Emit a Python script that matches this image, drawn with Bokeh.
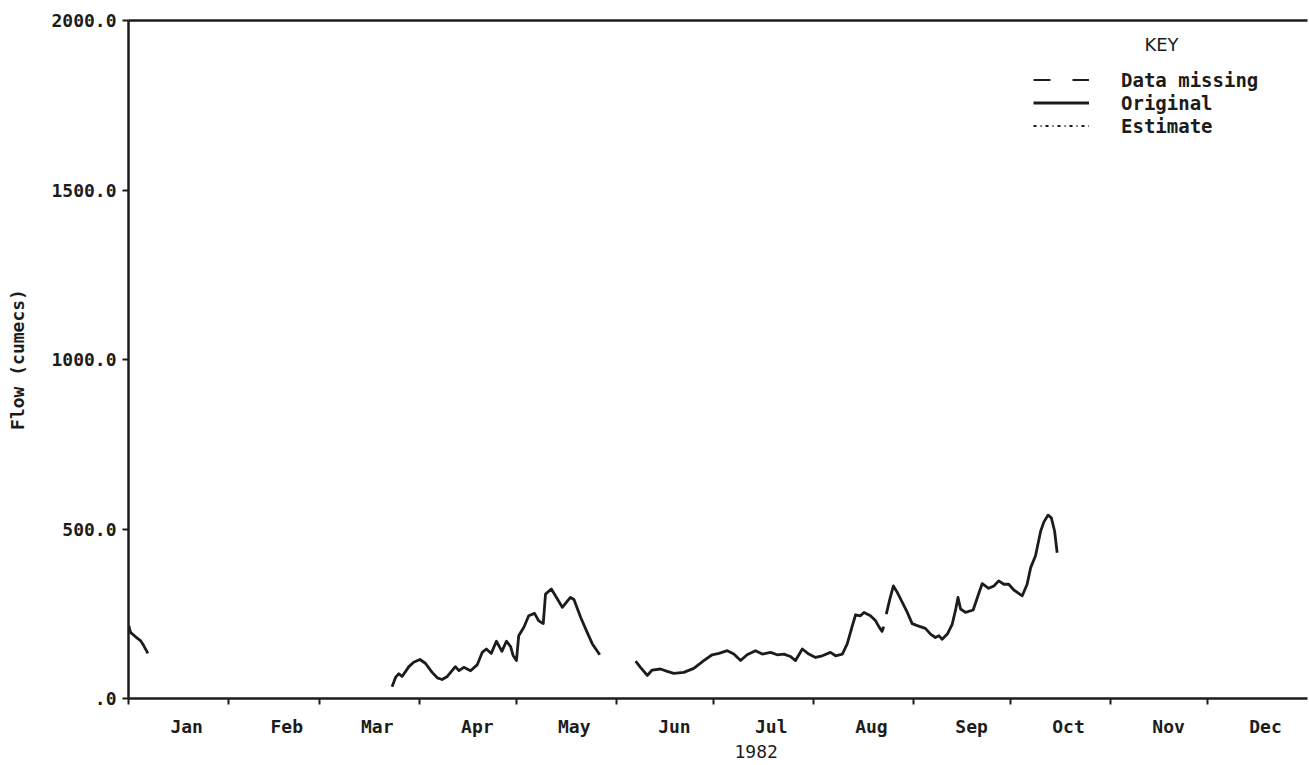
from bokeh.plotting import figure
from bokeh.models import (Range1d, FixedTicker, Legend, LegendItem, Title, Label,
                          LinearAxis)
from bokeh.embed import file_html
from bokeh.resources import INLINE

# ---- data (day of year 1982, flow in cumecs) ----
months = ["Jan", "Feb", "Mar", "Apr", "May", "Jun", "Jul", "Aug", "Sep", "Oct", "Nov", "Dec"]
month_start = [0, 31, 59, 90, 120, 151, 181, 212, 243, 273, 304, 334]
y_ticks = [0, 500, 1000, 1500, 2000]
y_tick_labels = [".0", "500.0", "1000.0", "1500.0", "2000.0"]

jan_days = [0.1, 0.6, 2.2, 3.7, 4.7, 6.0]
jan_flow = [215, 195, 182, 171, 156, 133]

spring_days = [81.6, 82.7, 83.7, 84.7, 86.8, 88.3, 90.2, 91.9, 94.0, 95.6, 97.1, 98.7,
               101.2, 102.3, 103.8, 105.9, 108.0, 109.5, 110.8, 112.3, 113.9, 115.6,
               117.0, 118.3, 119.1, 120.1, 120.8, 122.4, 123.9, 125.7, 127.0, 128.4,
               129.1, 130.9, 132.5, 134.3, 136.8, 137.9, 140.0, 142.0, 143.6, 145.9]
spring_flow = [35, 63, 73, 65, 94, 107, 115, 104, 77, 61, 56, 65,
               94, 82, 92, 82, 100, 136, 146, 133, 169, 139,
               169, 153, 126, 112, 185, 210, 244, 251, 229, 221,
               308, 323, 298, 269, 298, 292, 239, 195, 161, 129]

summer_days = [157.0, 158.5, 160.6, 162.1, 164.7, 166.8, 168.8, 171.9, 175.0, 178.1,
               180.7, 182.8, 185.4, 187.4, 189.5, 191.5, 194.1, 196.2, 198.8, 200.8,
               202.9, 204.9, 206.5, 208.6, 210.6, 212.7, 214.8, 217.3, 218.9, 221.0,
               222.5, 224.1, 225.1, 226.6, 227.7, 229.7, 231.3, 232.3, 233.3, 233.8]
summer_flow = [110, 92, 68, 84, 87, 80, 74, 77, 89, 112,
               129, 133, 141, 131, 112, 129, 141, 131, 136, 129,
               131, 124, 112, 146, 131, 121, 126, 136, 126, 131,
               161, 215, 247, 244, 254, 244, 229, 212, 198, 212]

autumn_days = [234.6, 235.7, 236.8, 238.0, 239.6, 241.1, 242.6, 244.2, 246.7, 248.3,
               249.8, 250.9, 251.9, 253.5, 255.0, 256.0, 256.8, 257.6, 259.1, 261.5,
               262.8, 264.3, 266.3, 267.9, 269.4, 271.0, 272.5, 274.1, 276.7, 278.2,
               279.3, 280.8, 282.4, 283.4, 284.7, 285.7, 286.7, 287.5]
autumn_flow = [249, 293, 332, 313, 283, 254, 221, 215, 207, 190,
               180, 185, 175, 190, 219, 259, 298, 264, 254, 261,
               298, 339, 325, 332, 347, 337, 337, 320, 303, 337,
               386, 421, 494, 521, 541, 533, 494, 430]

NAN = float("nan")
no_days = [NAN, NAN]   # series with no values (legend-only entries)
no_flow = [NAN, NAN]

INK = "#1c1c1c"
MONO = "DejaVu Sans Mono"

p = figure(frame_width=1179, frame_height=678,
           x_range=Range1d(0, 365), y_range=Range1d(0, 2000),
           output_backend="svg", toolbar_location=None,
           min_border_left=128, min_border_top=20, min_border_right=2,
           min_border_bottom=66,
           background_fill_color="white", border_fill_color="white",
           outline_line_color=None, x_axis_type=None, y_axis_type=None)
p.grid.visible = False

# y axis
yax = LinearAxis(ticker=FixedTicker(ticks=y_ticks),
                 major_label_overrides={t: l for t, l in zip(y_ticks, y_tick_labels)})
yax.axis_line_color = INK
yax.axis_line_width = 2.5
yax.major_tick_out = 6
yax.major_tick_in = 0
yax.major_tick_line_color = INK
yax.major_tick_line_width = 2
yax.minor_tick_line_color = None
yax.major_label_standoff = 6
yax.major_label_text_font = MONO
yax.major_label_text_font_style = "bold"
yax.major_label_text_font_size = "18px"
yax.major_label_text_color = INK
yax.axis_label = "Flow (cumecs)"
yax.axis_label_text_font = MONO
yax.axis_label_text_font_style = "bold"
yax.axis_label_text_font_size = "18px"
yax.axis_label_text_color = INK
yax.axis_label_standoff = 20
p.add_layout(yax, "left")

# x axis: labels mid-month, tick marks at month boundaries
label_pos = [s + 18 for s in month_start]
xax = LinearAxis(ticker=FixedTicker(ticks=label_pos, minor_ticks=month_start),
                 major_label_overrides={t: m for t, m in zip(label_pos, months)})
xax.axis_line_color = INK
xax.axis_line_width = 2.5
xax.major_tick_out = 0
xax.major_tick_in = 0
xax.minor_tick_out = 6
xax.minor_tick_in = 0
xax.minor_tick_line_color = INK
xax.minor_tick_line_width = 2
xax.major_label_standoff = 11
xax.major_label_text_font = MONO
xax.major_label_text_font_style = "bold"
xax.major_label_text_font_size = "18px"
xax.major_label_text_color = INK
p.add_layout(xax, "below")

# top frame line
tax = LinearAxis(ticker=FixedTicker(ticks=[]))
tax.axis_line_color = INK
tax.axis_line_width = 2.5
tax.major_tick_out = 0
tax.major_tick_in = 0
tax.minor_tick_line_color = None
tax.major_label_text_font_size = "0px"
tax.major_label_standoff = 0
p.add_layout(tax, "above")

# year title
p.add_layout(Title(text="1982", align="left", offset=606, text_font=MONO,
                   text_font_style="normal", text_font_size="18px",
                   text_color=INK, standoff=7), "below")

# data
lw = 2.8
r_orig = None
for xs, ys in [(jan_days, jan_flow), (spring_days, spring_flow),
               (summer_days, summer_flow), (autumn_days, autumn_flow)]:
    r = p.line(xs, ys, line_color=INK, line_width=lw, line_join="round")
    if r_orig is None:
        r_orig = r

r_miss = p.line(no_days, no_flow, line_color=INK, line_width=2, line_dash="17 22")
r_est = p.line(no_days, no_flow, line_color=INK, line_width=2, line_dash="3 4 1 4")

legend = Legend(items=[LegendItem(label="Data missing", renderers=[r_miss]),
                       LegendItem(label="Original", renderers=[r_orig]),
                       LegendItem(label="Estimate", renderers=[r_est])],
                location=(905, 561))
legend.label_text_font = MONO
legend.label_text_font_style = "bold"
legend.label_text_font_size = "19px"
legend.label_text_color = INK
legend.glyph_width = 56
legend.glyph_height = 23
legend.label_height = 23
legend.spacing = 0
legend.padding = 0
legend.margin = 0
legend.label_standoff = 32
legend.border_line_color = None
legend.background_fill_alpha = 0
p.add_layout(legend)

p.add_layout(Label(x=319.8, y=1929, text="KEY", text_align="center",
                   text_baseline="middle", text_font="DejaVu Sans",
                   text_font_size="18px", text_color=INK))

open("out.html", "w").write(file_html(p, INLINE))
